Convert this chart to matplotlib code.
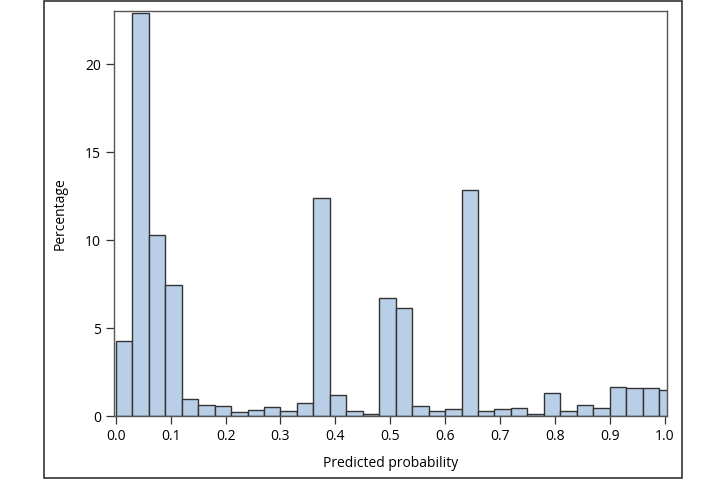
import numpy as np
import matplotlib
matplotlib.use('Agg')
import matplotlib.pyplot as plt
from matplotlib.patches import Rectangle

plt.rcParams['font.family'] = ['Open Sans', 'DejaVu Sans']

# histogram bins (width 0.03, starting at 0)
bin_width = 0.03
bin_starts = [round(i * bin_width, 2) for i in range(34)]
percentages = [4.25, 22.9, 10.31, 7.45, 0.95, 0.64, 0.55, 0.23, 0.34, 0.49,
               0.28, 0.72, 12.42, 1.18, 0.28, 0.09, 6.71, 6.12, 0.55, 0.27,
               0.38, 12.83, 0.30, 0.40, 0.45, 0.13, 1.29, 0.30, 0.63, 0.44,
               1.67, 1.62, 1.60, 1.50]

xticks = [0.0, 0.1, 0.2, 0.3, 0.4, 0.5, 0.6, 0.7, 0.8, 0.9, 1.0]
yticks = [0, 5, 10, 15, 20]

fig = plt.figure(figsize=(7.28, 4.8), dpi=100)
ax = fig.add_axes([0.1562, 0.1333, 0.7596, 0.8431])

ax.bar(bin_starts, percentages, width=bin_width, align='edge',
       color='#b9cfe7', edgecolor='#333333', linewidth=1.0)

ax.set_xlim(-0.004, 1.004)
ax.set_ylim(0, 23.01)
ax.set_xticks(xticks)
ax.set_xticklabels([f'{t:.1f}' for t in xticks])
ax.set_yticks(yticks)
ax.tick_params(labelsize=10, length=6, width=0.9, color='#333333', pad=3)
for s in ax.spines.values():
    s.set_color('#555555')
    s.set_linewidth(1.0)

ax.set_xlabel('Predicted probability', fontsize=10, labelpad=9)
ax.set_ylabel('Percentage', fontsize=10, labelpad=13)

# outer border
fig.patches.append(Rectangle((0.0604, 0.004), 0.877, 0.994, transform=fig.transFigure,
                             fill=False, edgecolor='#333333', linewidth=1.2))

fig.savefig('out.png', dpi=100)
